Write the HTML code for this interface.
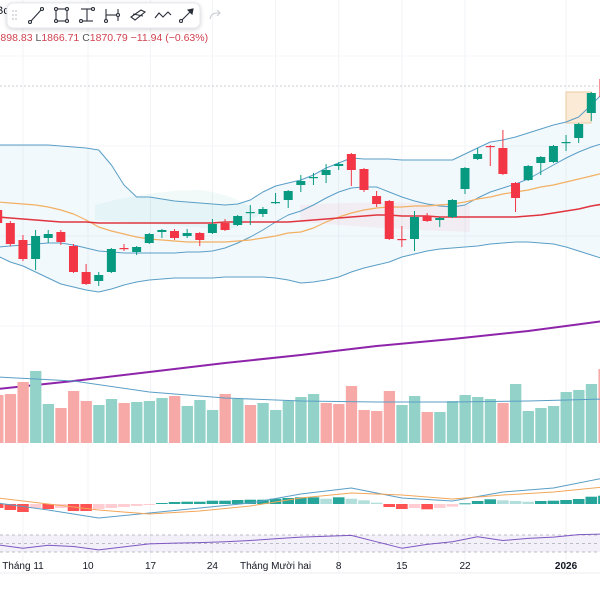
<!DOCTYPE html>
<html><head><meta charset="utf-8"><style>
html,body{margin:0;padding:0;background:#fff;width:600px;height:600px;overflow:hidden}
svg{display:block;font-family:"Liberation Sans",sans-serif}
</style></head><body>
<svg id="chart" width="600" height="600" viewBox="0 0 600 600" xmlns="http://www.w3.org/2000/svg">
<g id="grid"></g>
<g id="fills"></g>
<line x1="0" y1="86" x2="600" y2="86" stroke="#c9ccd4" stroke-dasharray="2,2" stroke-width="1"/>
<rect x="566" y="92" width="25" height="31" fill="#fbead6" stroke="#e9c9a2" stroke-width="1"/>
<g id="lines"></g>
<g id="candles"></g>
<g id="vol"></g>
<g id="macd"></g>
<g id="rsi"></g>
<line x1="0" y1="573" x2="600" y2="573" stroke="#eceef2"/>
<g id="xaxis" font-size="10" fill="#131722"></g>
<text x="-4" y="14" font-size="11" fill="#131722">Bc</text>
<text x="-13" y="41" font-size="10.5" fill="#d0424f"><tspan fill="#555">H</tspan>1898.83 <tspan fill="#555">L</tspan>1866.71 <tspan fill="#555">C</tspan>1870.79 −11.94 (−0.63%)</text>
<g>
<rect x="7" y="3" width="193" height="25" rx="6" fill="#fff" stroke="#e6e8ee" style="filter:drop-shadow(0 1px 2px rgba(0,0,0,0.18))"/>
<g fill="#c4c7cf"><circle cx="13" cy="11" r="0.9"/><circle cx="16" cy="11" r="0.9"/><circle cx="13" cy="15" r="0.9"/><circle cx="16" cy="15" r="0.9"/><circle cx="13" cy="19" r="0.9"/><circle cx="16" cy="19" r="0.9"/></g>
<g stroke="#2a2e39" stroke-width="1.1" fill="none">
<g><line x1="31" y1="21" x2="41" y2="10"/><circle cx="30" cy="22" r="1.5" fill="#fff"/><circle cx="42" cy="9" r="1.5" fill="#fff"/></g>
<g><rect x="56" y="9" width="11" height="12"/><circle cx="56" cy="9" r="1.5" fill="#fff"/><circle cx="67" cy="9" r="1.5" fill="#fff"/><circle cx="56" cy="21" r="1.5" fill="#fff"/><circle cx="67" cy="21" r="1.5" fill="#fff"/></g>
<g><line x1="81" y1="9" x2="93" y2="9"/><line x1="87" y1="9" x2="87" y2="21"/><line x1="81" y1="21" x2="93" y2="21"/><circle cx="93" cy="9" r="1.5" fill="#fff"/><circle cx="81" cy="21" r="1.5" fill="#fff"/></g>
<g><line x1="106" y1="9" x2="106" y2="21"/><line x1="118" y1="9" x2="118" y2="21"/><line x1="106" y1="15" x2="118" y2="15"/><circle cx="106" cy="21" r="1.5" fill="#fff"/><circle cx="118" cy="15" r="1.5" fill="#fff"/></g>
<g><path d="M131 17 L141 10 L145 12 L135 20 Z"/><line x1="133" y1="14" x2="143" y2="16"/></g>
<g><polyline points="155,18 159,13 163,17 168,12 171,15"/></g>
<g><line x1="181" y1="21" x2="192" y2="10"/><circle cx="181" cy="21" r="1.5" fill="#fff"/><path d="M188 10 L193 9 L192 14 Z" fill="#2a2e39"/></g>
</g>
</g>
<path d="M210 19 Q211 13 217 13 L220 13 M217 10 L220 13 L217 16" stroke="#c9ccd4" stroke-width="1.1" fill="none"/>
</svg>
<script>
// ---------- data ----------
const openP  = [1758,1745,1728,1709,1730,1736,1722,1696,1687,1696,1720,1716,1725,1736,1737,1732,1735,1735,1745,1743,1755,1754,1765,1768,1783,1790,1793,1802,1814,1799,1772,1767,1729,1729,1752,1748,1751,1779,1809,1822,1820,1785,1788,1805,1806,1825.5,1830,1855,1889];
const highP  = [1763,1747,1733,1738,1738,1738,1724,1704,1696,1720,1724,1722,1735,1739,1739,1739,1736,1749,1749,1753,1763,1761,1775,1778,1793,1795,1804,1806,1815,1800,1777,1768,1742,1757,1755,1751,1769,1801,1820,1823,1838,1786,1803,1812,1823,1833,1845,1876,1892];
const lowP   = [1742,1722,1707,1698,1725,1723,1695,1683,1682,1695,1717,1713,1724,1730,1728,1730,1722,1734,1737,1742,1743,1751,1764,1760,1776,1783,1785,1798,1782,1776,1761,1728,1721,1717,1746,1741,1750,1774,1808,1802,1793,1756,1787,1793,1805,1817,1825,1847,1869];
const closeP = [1745,1724,1709,1732,1734,1726,1696,1684,1693,1719,1719,1721,1734,1738,1730,1735,1728,1744,1738,1752,1756,1759,1766,1777,1787,1791,1798,1804,1798,1778,1764,1729,1728,1751,1747,1750,1768,1800,1814,1821.5,1794,1770,1802,1811,1822,1826,1844,1875,1871];
const bbUpper = [1823,1823,1823,1823,1823,1822,1821,1820,1818,1803,1783,1771,1771,1769,1767,1766,1765,1764,1763,1764,1768,1776,1782,1785,1788,1793,1800,1805,1810,1809,1809,1809,1808,1808,1808,1808,1808,1814,1820,1826,1828,1831,1835,1839,1843,1846,1851,1863,1876];
const bbLower = [1712,1706,1702,1696,1690,1684,1681,1678,1676,1679,1683,1686,1688,1689,1690,1690,1690,1690,1691,1691,1691,1691,1690,1688,1685,1686,1688,1691,1696,1700,1703,1706,1711,1714,1717,1719,1720,1721,1722,1724,1725,1726,1726,1725,1724,1721,1717,1713,1709];
const bbBasis = [1721,1722,1723,1724,1725,1725,1723,1720,1717,1716,1715,1715,1715,1715,1715,1716,1716,1717,1720,1725,1731,1738,1746,1753,1757,1763,1770,1776,1780,1781,1781,1776,1771,1767,1764,1762,1761,1763,1770,1776,1780,1784,1789,1796,1803,1810,1816,1821,1825];
const maOrange = [1766,1765,1764,1763,1761,1758,1754,1748,1741,1737,1734,1731,1729,1728,1727,1726,1726,1726,1726,1727,1728,1730,1732,1735,1736,1740,1746,1751,1755,1758,1760,1761,1761,1762,1762,1763,1764,1766,1769,1771,1774,1776,1778,1781,1783,1786,1789,1792,1795];
const maRed = [1751,1750,1749,1748,1747,1746,1746,1746,1745,1745,1745,1745,1745,1745,1745,1745,1745,1745,1746,1746,1746,1746,1746,1746,1747,1748,1749,1750,1751,1752,1753,1753,1752,1752,1752,1751,1751,1751,1751,1751,1751,1751,1752,1753,1755,1757,1759,1762,1764];
const ma200Every6 = [1579,1587,1596,1605,1613,1622,1629,1637,1647];
const volume = [48,49,61,72,39,35,52,42,38,44,40,41,42,45,47,37,43,33,49,44,38,40,33,42,46,49,40,39,57,33,32,52,38,47,31,31,42,48,46,44,40,59,32,35,37,51,53,59,74];
const volUp = [0,0,0,1,1,0,0,0,1,1,0,1,1,1,0,1,1,1,0,1,0,1,1,1,1,1,0,0,0,0,0,0,1,1,0,1,1,1,1,1,0,1,1,1,1,1,1,1,0];
const volMaEvery6 = [66,62,51,45,42,41,41,42,44];
const macdHist = [-4,-6,-8,-4,-5,-4,-7,-7,-5,-4,-3,-2,-0.7,1,2,2.3,2.3,3.3,3.3,4,4.3,4.3,5.3,6,6.7,6.7,5.3,6.7,5.3,3.7,1.3,-3,-5,-4,-5.3,-4,-2.7,0.7,3,4.7,3.7,3,2.3,3,3.3,4,5,7.3,8.3];
const macdLineEvery4 = [1,-6,-14,-9,-4,1,10,16,6,3,12,16,26];
const signalEvery4 = [6,0,-6,-10,-7,-2,6,11,9,5,9,12,17];
const rsiEvery2 = [47,39,46,43,35,42,49,51,52,54,57,61,65,67,69,54,39,48,54,66,57,62,65,71,72];
const dateLabels = ["Tháng 11","10","17","24","Tháng Mười hai","8","15","22","2026"];
const dateIndex = [2,7.15,12.1,17,22,27,32,37,45];

// ---------- scales ----------
const NS="http://www.w3.org/2000/svg";
const xOf = k => -2.3 + 12.63*k;
const yPrice = p => 1968 - p;
const yVol = v => 443 - v;
const yMacd = v => 504 - v;
const yRsi = r => 552 - (r-30)*0.425;
function mk(tag, attrs, parent){const e=document.createElementNS(NS,tag);for(const a in attrs)e.setAttribute(a,attrs[a]);parent.appendChild(e);return e;}
function pts(arr, step, yf){return arr.map((v,i)=>xOf(i*step).toFixed(1)+","+yf(v).toFixed(1)).join(" ");}

// grid
const grid=document.getElementById('grid');
dateIndex.forEach(d=>{
  const l=mk('line',{x1:xOf(d),x2:xOf(d),y1:0,y2:573,stroke:'#f2f3f6'},grid);
  
  
});
[56,146,236,326].forEach(y=>{
  const l=mk('line',{x1:0,x2:600,y1:y,y2:y,stroke:'#f4f5f8'},grid);
  
  
});

// fills
const fills=document.getElementById('fills');
const bbPoly = bbUpper.map((v,i)=>xOf(i)+","+yPrice(v)).concat(bbLower.map((v,i)=>[i,v]).reverse().map(([i,v])=>xOf(i)+","+yPrice(v))).join(" ");
const bbf=mk('polygon',{points:bbPoly,fill:'rgba(41,150,220,0.06)'},fills);


const gf=mk('path',{d:'M95 205 Q150 190 200 190 Q240 195 260 215 L230 230 Q170 225 95 220 Z',fill:'rgba(8,153,129,0.05)'},fills);


const pf=mk('path',{d:'M300 205 Q380 200 470 205 L470 232 Q400 230 300 222 Z',fill:'rgba(242,54,69,0.06)'},fills);



// lines
const lines=document.getElementById('lines');
function poly(arr,step,yf,color,w,name,parent){
  const p=mk('polyline',{points:pts(arr,step,yf),fill:'none',stroke:color,'stroke-width':w,'stroke-linejoin':'round'},parent);
  
  
}
poly(bbUpper,1,yPrice,'#5a9ec6',1,'bb-upper',lines);
poly(bbLower,1,yPrice,'#5a9ec6',1,'bb-lower',lines);
poly(bbBasis,1,yPrice,'#5a9ec6',1,'bb-basis',lines);
poly(maOrange,1,yPrice,'#f2b063',1.2,'ma-orange',lines);
poly(maRed,1,yPrice,'#e0353f',1.6,'ma-red',lines);
poly(ma200Every6,6,yPrice,'#8e24aa',2,'ma-long-purple',lines);

// candles
const cg=document.getElementById('candles');
openP.forEach((o,i)=>{
  const c=closeP[i], up=c>=o, col=up?'#089981':'#f23645', x=xOf(i);
  const w=mk('line',{x1:x,x2:x,y1:yPrice(highP[i]),y2:yPrice(lowP[i]),stroke:col,'stroke-width':1},cg);
  
  
  const top=yPrice(Math.max(o,c)), h=Math.max(1.2,Math.abs(o-c));
  const b=mk('rect',{x:x-4.5,y:top,width:9,height:h,fill:col},cg);
  
  
});

// volume
const vg=document.getElementById('vol');
volume.forEach((v,i)=>{
  const r=mk('rect',{x:xOf(i)-5.5,y:yVol(v),width:11.3,height:v,fill:volUp[i]?'#92d2c8':'#f7a9a8'},vg);
  
  
});
poly(volMaEvery6,6,yVol,'#5a9ec6',1,'volume-ma',vg);

// macd
const mg=document.getElementById('macd');
macdHist.forEach((v,i)=>{
  const prev=i>0?macdHist[i-1]:v;
  let col;
  if(v>=0) col = v>=prev ? '#26a69a' : '#b2dfdb';
  else col = v<=prev ? '#ff5252' : '#ffcdd2';
  const r=mk('rect',{x:xOf(i)-5.8,y:Math.min(yMacd(v),yMacd(0)),width:11.6,height:Math.max(1,Math.abs(v)),fill:col},mg);
  
  
});
poly(macdLineEvery4,4,yMacd,'#5a9ec6',1,'macd-line',mg);
poly(signalEvery4,4,yMacd,'#f2a65a',1,'signal-line',mg);

// rsi
const rg=document.getElementById('rsi');
const rb=mk('rect',{x:0,y:yRsi(70),width:600,height:yRsi(30)-yRsi(70),fill:'rgba(126,87,194,0.09)'},rg);


[70,50,30].forEach(l=>{
  const e=mk('line',{x1:0,x2:600,y1:yRsi(l),y2:yRsi(l),stroke:'#a7a9b4','stroke-dasharray':'3,3','stroke-width':0.8},rg);
  
  
});
poly(rsiEvery2,2,yRsi,'#7e57c2',1,'rsi-line',rg);

// x axis
const xa=document.getElementById('xaxis');
dateLabels.forEach((t,i)=>{
  const e=mk('text',{x:xOf(dateIndex[i]),y:569,'text-anchor':'middle'},xa);
  if(t==='2026') e.setAttribute('font-weight','bold');
  e.textContent=t;
  
  
});
</script>
</body></html>
